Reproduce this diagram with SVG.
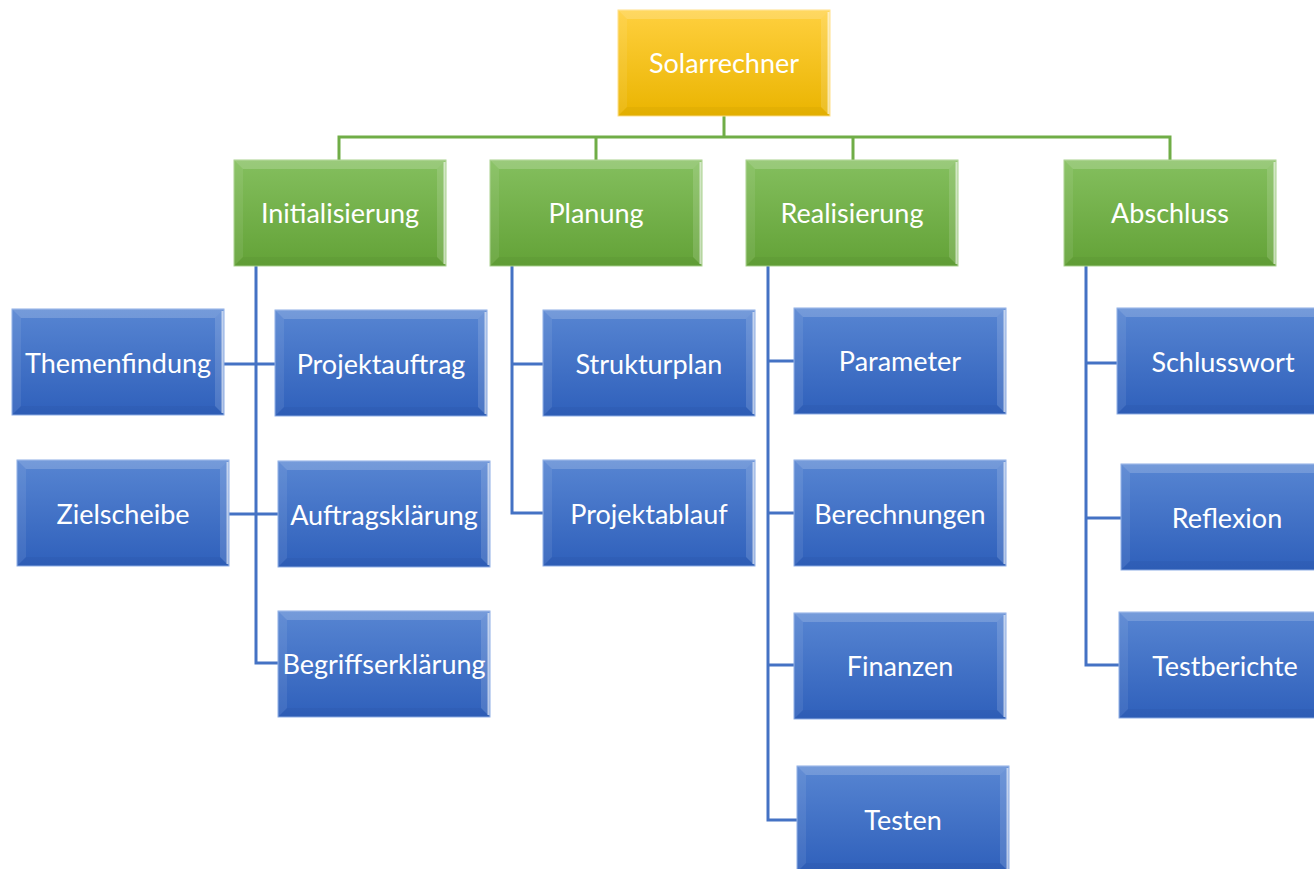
<svg xmlns="http://www.w3.org/2000/svg" xmlns:xlink="http://www.w3.org/1999/xlink" width="1314" height="869" viewBox="0 0 1314 869">
<style>
.t{font-family:Lato,"Open Sans","Liberation Sans",sans-serif;font-size:27px;fill:#ffffff;text-anchor:middle;dominant-baseline:central}
.cg{stroke:#70ad47;stroke-width:3;fill:none}
.cb{stroke:#4472c4;stroke-width:3;fill:none}
</style>
<defs>
<linearGradient id="gB" x1="0" y1="0" x2="0" y2="1"><stop offset="0" stop-color="#5785d2"/><stop offset="1" stop-color="#2f60bb"/></linearGradient>
<linearGradient id="gG" x1="0" y1="0" x2="0" y2="1"><stop offset="0" stop-color="#84bf5e"/><stop offset="1" stop-color="#63a237"/></linearGradient>
<linearGradient id="gY" x1="0" y1="0" x2="0" y2="1"><stop offset="0" stop-color="#ffd03f"/><stop offset="1" stop-color="#eab400"/></linearGradient>
<g id="bevel">
<polygon points="0,0 212,0 203,9 9,9" fill="#ffffff" fill-opacity="0.18"/>
<polygon points="0,0 9,9 9,97 0,106" fill="#ffffff" fill-opacity="0.08"/>
<polygon points="212,0 212,106 203,97 203,9" fill="#ffffff" fill-opacity="0.14"/>
<polygon points="0,106 9,97 203,97 212,106" fill="#000000" fill-opacity="0.03"/>
<line x1="210.5" y1="2" x2="210.5" y2="104" stroke="#ffffff" stroke-opacity="0.6" stroke-width="2"/>
</g>
<g id="boxB"><rect x="0" y="0" width="212" height="106" fill="url(#gB)" stroke="#8eaee6" stroke-width="1"/><use href="#bevel"/></g>
<g id="boxG"><rect x="0" y="0" width="212" height="106" fill="url(#gG)" stroke="#a9d18e" stroke-width="1"/><use href="#bevel"/></g>
<g id="boxY"><rect x="0" y="0" width="212" height="106" fill="url(#gY)" stroke="#ffe08a" stroke-width="1"/><use href="#bevel"/></g>
</defs>
<rect width="1314" height="869" fill="#ffffff"/>
<g id="connectors">
<path class="cg" d="M724,116 V137 M339,160 V137 H1170 V160 M596,137 V160 M853,137 V160"/>
<path class="cb" d="M256,266 V663 H278 M224,364 H275 M229,514 H278"/>
<path class="cb" d="M512,266 V513 H543 M512,364 H543"/>
<path class="cb" d="M768,266 V820 H797 M768,361 H794 M768,513 H794 M768,665 H794"/>
<path class="cb" d="M1086,266 V665 H1119 M1086,363 H1117 M1086,518 H1121"/>
</g>
<g id="n-solar"><use href="#boxY" x="618" y="10"/><text class="t" x="724" y="62">Solarrechner</text></g>
<g id="n-init"><use href="#boxG" x="234" y="160"/><text class="t" x="340" y="212">Initialisierung</text></g>
<g id="n-plan"><use href="#boxG" x="490" y="160"/><text class="t" x="596" y="212">Planung</text></g>
<g id="n-real"><use href="#boxG" x="746" y="160"/><text class="t" x="852" y="212">Realisierung</text></g>
<g id="n-absc"><use href="#boxG" x="1064" y="160"/><text class="t" x="1170" y="212">Abschluss</text></g>
<g id="n-themen"><use href="#boxB" x="12" y="309"/><text class="t" x="118" y="362">Themenfindung</text></g>
<g id="n-ziel"><use href="#boxB" x="17" y="460"/><text class="t" x="123" y="513">Zielscheibe</text></g>
<g id="n-projauf"><use href="#boxB" x="275" y="310"/><text class="t" x="381" y="363">Projektauftrag</text></g>
<g id="n-auftrag"><use href="#boxB" x="278" y="461"/><text class="t" x="384" y="514">Auftragsklärung</text></g>
<g id="n-begriff"><use href="#boxB" x="278" y="611"/><text class="t" x="384" y="663">Begriffserklärung</text></g>
<g id="n-struktur"><use href="#boxB" x="543" y="310"/><text class="t" x="649" y="363">Strukturplan</text></g>
<g id="n-ablauf"><use href="#boxB" x="543" y="460"/><text class="t" x="649" y="513">Projektablauf</text></g>
<g id="n-param"><use href="#boxB" x="794" y="308"/><text class="t" x="900" y="360">Parameter</text></g>
<g id="n-berech"><use href="#boxB" x="794" y="460"/><text class="t" x="900" y="513">Berechnungen</text></g>
<g id="n-finanz"><use href="#boxB" x="794" y="613"/><text class="t" x="900" y="665">Finanzen</text></g>
<g id="n-testen"><use href="#boxB" x="797" y="766"/><text class="t" x="903" y="819">Testen</text></g>
<g id="n-schluss"><use href="#boxB" x="1117" y="308"/><text class="t" x="1223" y="361">Schlusswort</text></g>
<g id="n-reflex"><use href="#boxB" x="1121" y="464"/><text class="t" x="1227" y="517">Reflexion</text></g>
<g id="n-testber"><use href="#boxB" x="1119" y="612"/><text class="t" x="1225" y="665">Testberichte</text></g>
</svg>
